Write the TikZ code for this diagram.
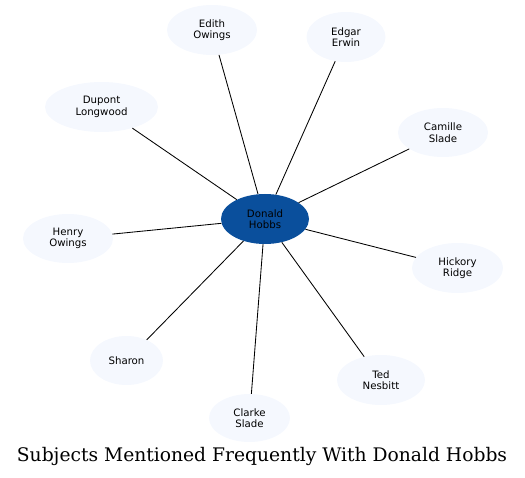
\documentclass[tikz,border=0pt]{standalone}
\usepackage{fontspec}
\setmainfont{DejaVu Serif}
\newfontfamily\nodefont{DejaVu Sans}
\usetikzlibrary{shapes.geometric}
\definecolor{hub}{HTML}{0A4F9C}
\definecolor{leaf}{HTML}{F5F8FE}
\tikzset{
  base/.style={ellipse, inner sep=0pt, align=center, font=\nodefont\fontsize{10.2}{11.5}\selectfont},
  hubnode/.style={base, fill=hub, text=black},
  leafnode/.style={base, fill=leaf, text=black},
  link/.style={draw=black, line width=0.85pt},
}
\begin{document}
\begin{tikzpicture}[x=1pt, y=-1pt]
\useasboundingbox (0,0) rectangle (525,478);
\node[hubnode, minimum width=88pt, minimum height=50pt] (hobbs) at (265,219) {Donald\\Hobbs};
\node[leafnode, minimum width=90pt, minimum height=50pt] (edith) at (212,30) {Edith\\Owings};
\node[leafnode, minimum width=79pt, minimum height=50pt] (edgar) at (346,37) {Edgar\\Erwin};
\node[leafnode, minimum width=113pt, minimum height=50pt] (dupont) at (101.5,107) {Dupont\\Longwood};
\node[leafnode, minimum width=90pt, minimum height=49pt] (camille) at (443,132.5) {Camille\\Slade};
\node[leafnode, minimum width=90pt, minimum height=49pt] (henry) at (68,238.5) {Henry\\Owings};
\node[leafnode, minimum width=91pt, minimum height=50pt] (hickory) at (457.5,268) {Hickory\\Ridge};
\node[leafnode, minimum width=73pt, minimum height=49pt] (sharon) at (126.5,360.5) {Sharon};
\node[leafnode, minimum width=88pt, minimum height=50pt] (ted) at (381,380) {Ted\\Nesbitt};
\node[leafnode, minimum width=81pt, minimum height=48pt] (clarke) at (249.5,418) {Clarke\\Slade};
\foreach \n in {edith,edgar,dupont,camille,henry,hickory,sharon,ted,clarke}
  \draw[link] (hobbs) -- (\n);
\node[font=\fontsize{18.7}{22}\selectfont, anchor=base] (title) at (262,461) {Subjects Mentioned Frequently With Donald Hobbs};
\end{tikzpicture}
\end{document}
